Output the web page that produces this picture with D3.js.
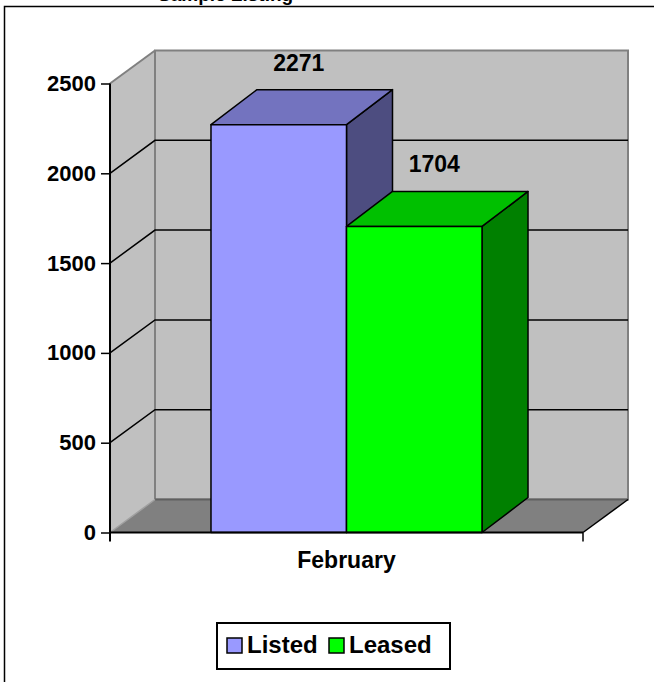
<!DOCTYPE html>
<html><head><meta charset="utf-8">
<script src="https://cdn.jsdelivr.net/npm/d3@7"></script>
<style>body{margin:0;background:#fff}svg{display:block}text{font-family:Arial,"Liberation Sans",sans-serif;font-weight:bold}</style>
</head><body>
<script>
const categories = ["February"];
const seriesNames = ["Listed", "Leased"];
const listedValues = [2271];
const leasedValues = [1704];
const yTicks = [0, 500, 1000, 1500, 2000, 2500];
const titleText = "Sample Listing";

const frontColors = {Listed: "#9999ff", Leased: "#00ff00"};
const topColors = {Listed: "#7373bf", Leased: "#00c000"};
const sideColors = {Listed: "#4d4d80", Leased: "#008000"};

const W = 654, H = 682;
const FONT = 'Arial,"Liberation Sans",sans-serif';
const svg = d3.select("body").append("svg").attr("width", W).attr("height", H);

// frame
svg.append("path").attr("d", `M4.5,${H} L4.5,6.5 L${W},6.5`).attr("fill","none").attr("stroke","#000").attr("stroke-width",1.5);
// title (mostly clipped above, as in the reference)
svg.append("text").attr("x", 158).attr("y", 0.5).attr("font-size", 19).attr("fill","#000").text(titleText);

const x0 = 110, x1r = 583, yZero = 532.5;
const ddx = 45, ddy = -33;      // wall depth
const bdx = 46, bdy = -35;      // bar depth
const y = d3.scaleLinear().domain([0, 2500]).range([yZero, 83.5]);
const x = d3.scaleBand().domain(categories).range([x0, x1r]);

const g = svg.append("g");
const yTop = y(2500), yBot = y(0);

// back wall
g.append("rect").attr("x", x0+ddx).attr("y", yTop+ddy).attr("width", x1r-x0).attr("height", yBot-yTop)
  .attr("fill", "#c0c0c0").attr("stroke", "#808080").attr("stroke-width", 2);
// left wall
g.append("path").attr("d", `M${x0},${yBot} L${x0},${yTop} L${x0+ddx},${yTop+ddy} L${x0+ddx},${yBot+ddy} Z`)
  .attr("fill", "#c0c0c0").attr("stroke", "none");
g.append("line").attr("x1", x0).attr("y1", yTop).attr("x2", x0+ddx).attr("y2", yTop+ddy).attr("stroke", "#808080").attr("stroke-width", 2);
g.append("line").attr("x1", x0+ddx).attr("y1", yTop+ddy).attr("x2", x0+ddx).attr("y2", yBot+ddy).attr("stroke", "#808080").attr("stroke-width", 2);

// gridlines
yTicks.filter(v => v > 0 && v < 2500).forEach(v => {
  g.append("path").attr("d", `M${x0},${y(v)} L${x0+ddx},${y(v)+ddy} L${x1r+ddx},${y(v)+ddy}`)
    .attr("fill","none").attr("stroke","#000").attr("stroke-width",1.5);
});

// floor
g.append("path").attr("d", `M${x0},${yBot} L${x0+ddx},${yBot+ddy} L${x1r+ddx},${yBot+ddy} L${x1r},${yBot} Z`)
  .attr("fill", "#808080").attr("stroke", "none");
g.append("line").attr("x1", x0+ddx).attr("y1", yBot+ddy).attr("x2", x1r+ddx).attr("y2", yBot+ddy).attr("stroke", "#606060").attr("stroke-width", 2);
g.append("line").attr("x1", x0).attr("y1", yBot).attr("x2", x0+ddx).attr("y2", yBot+ddy).attr("stroke", "#a0a0a0").attr("stroke-width", 1.5);
g.append("line").attr("x1", x1r).attr("y1", yBot).attr("x2", x1r+ddx).attr("y2", yBot+ddy).attr("stroke", "#000").attr("stroke-width", 1.5);

// bars
const data = [];
categories.forEach((c, i) => {
  data.push({cat: c, series: "Listed", value: listedValues[i]});
  data.push({cat: c, series: "Leased", value: leasedValues[i]});
});
const bw = x.bandwidth();
const xs = d3.scaleBand().domain(seriesNames);
data.forEach(d => {
  const start = x(d.cat);
  xs.range([start + bw*0.2135, start + bw*0.7865]);
  const L = xs(d.series), R = L + xs.bandwidth();
  const T = y(d.value), B = y(0);
  const bg = g.append("g").attr("stroke", "#000").attr("stroke-width", 1.5).attr("stroke-linejoin","round");
  bg.append("path").attr("d", `M${R},${B} L${R},${T} L${R+bdx},${T+bdy} L${R+bdx},${B+bdy} Z`).attr("fill", sideColors[d.series]);
  bg.append("path").attr("d", `M${L},${T} L${L+bdx},${T+bdy} L${R+bdx},${T+bdy} L${R},${T} Z`).attr("fill", topColors[d.series]);
  bg.append("rect").attr("x", L).attr("y", T).attr("width", R-L).attr("height", B-T).attr("fill", frontColors[d.series]);
});
// value labels
data.forEach(d => {
  xs.range([x(d.cat) + bw*0.2135, x(d.cat) + bw*0.7865]);
  const cx = xs(d.series) + xs.bandwidth()/2 + bdx/2 - 3;
  svg.append("text").attr("x", cx).attr("y", y(d.value) + bdy - 19)
    .attr("text-anchor","middle").attr("font-size", 23).attr("fill","#000").text(d.value);
});

// axes lines
g.append("line").attr("x1", x0).attr("y1", yTop).attr("x2", x0).attr("y2", yBot+9).attr("stroke","#000").attr("stroke-width",2);
g.append("line").attr("x1", x0).attr("y1", yBot).attr("x2", x1r).attr("y2", yBot).attr("stroke","#000").attr("stroke-width",2);
g.append("line").attr("x1", x1r).attr("y1", yBot).attr("x2", x1r).attr("y2", yBot+9).attr("stroke","#000").attr("stroke-width",1.5);

// y axis ticks/labels
const yAxis = d3.axisLeft(y).tickValues(yTicks).tickSize(9).tickPadding(5).tickFormat(d3.format("d"));
const ya = svg.append("g").attr("transform", `translate(${x0},0)`).call(yAxis);
ya.select(".domain").remove();
ya.selectAll(".tick line").attr("stroke","#000").attr("stroke-width",1.5);
ya.selectAll(".tick text").attr("font-size", 22).attr("fill","#000").attr("font-family", FONT).attr("font-weight","bold");

// category label
const xAxis = d3.axisBottom(x).tickSize(0).tickPadding(19);
const xa = svg.append("g").attr("transform", `translate(0,${yBot})`).call(xAxis);
xa.select(".domain").remove();
xa.selectAll(".tick text").attr("font-size", 23).attr("fill","#000").attr("font-family", FONT).attr("font-weight","bold");

// legend
const lg = svg.append("g");
lg.append("rect").attr("x", 217).attr("y", 623).attr("width", 233).attr("height", 46).attr("fill","#fff").attr("stroke","#000").attr("stroke-width",2);
const legX = [227, 329];
seriesNames.forEach((s, i) => {
  lg.append("rect").attr("x", legX[i]).attr("y", 638).attr("width", 15).attr("height", 15).attr("fill", frontColors[s]).attr("stroke","#000").attr("stroke-width",1.5);
  lg.append("text").attr("x", legX[i] + 20).attr("y", 653).attr("font-size", 24).attr("fill","#000").text(s);
});
</script>
</body></html>
